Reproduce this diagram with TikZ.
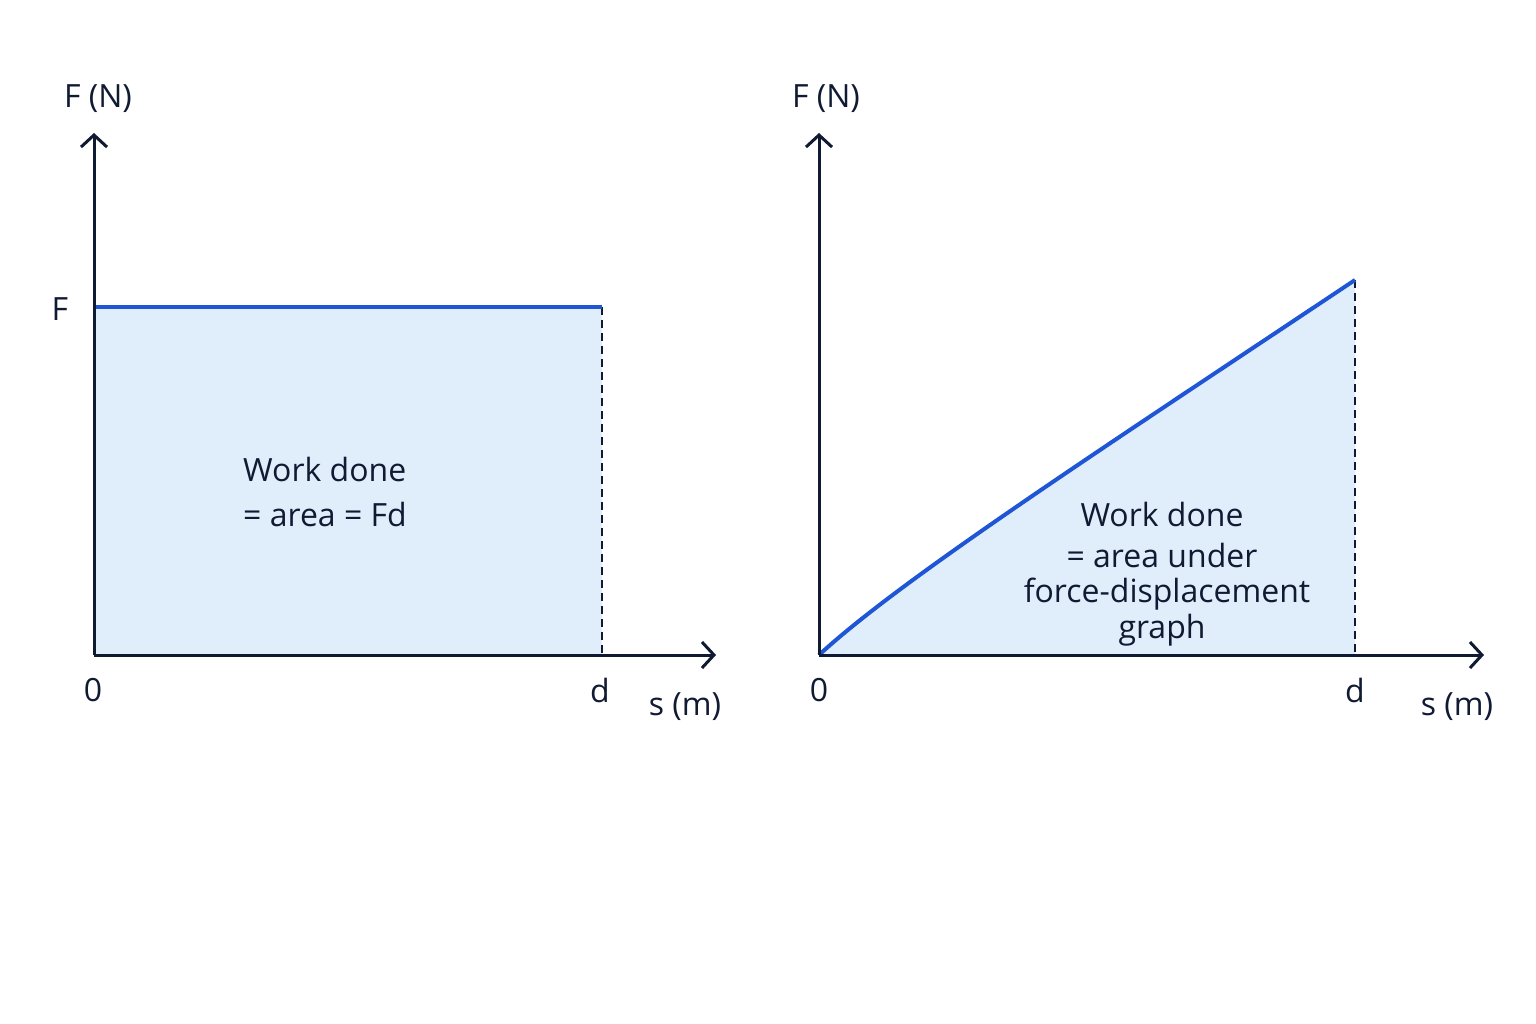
\documentclass[tikz,border=0pt]{standalone}
\usepackage{fontspec}
\setmainfont{Open Sans}
\usetikzlibrary{arrows.meta}
\definecolor{ax}{HTML}{111a33}
\definecolor{fillb}{HTML}{E0EEFB}
\definecolor{curve}{HTML}{1E56D6}
\begin{document}
\begin{tikzpicture}[x=1pt,y=-1pt,
  axis/.style={draw=ax,line width=3pt,-{Straight Barb[length=12pt,width=26pt,line width=3pt]}},
  dline/.style={draw=ax,line width=2.5pt,dash pattern=on 8pt off 5pt},
  lbl/.style={font=\fontsize{32}{37}\selectfont,text=ax,inner sep=0pt},
  crv/.style={draw=curve,line width=4pt}]
\path[fill=white] (0,0) rectangle (1536,1024);
\useasboundingbox (0,0) rectangle (1536,1024);
% left
\coordinate (o1) at (94,655);
\coordinate (y1) at (94,133);
\coordinate (x1) at (716,655);
\coordinate (f1) at (94,307);
\coordinate (d1) at (602,307);
\coordinate (b1) at (602,655);
\fill[fillb] (o1) -- (f1) -- (d1) -- (b1) -- cycle;
\draw[dline] (d1) -- (b1);
\draw[crv] (f1) -- (d1);
\draw[axis] (o1) -- (y1);
\draw[axis] (o1) -- (x1);
\node[lbl] (fn1) at (98,99) {F (N)};
\node[lbl] (ff1) at (60,309) {F};
\node[lbl] (z1) at (93,690) {0};
\node[lbl] (dd1) at (600,690) {d};
\node[lbl] (s1) at (685,707) {s (m)};
\node[lbl,anchor=west] (t1a) at (243,469) {Work done};
\node[lbl,anchor=west] (t1b) at (243,514) {= area = Fd};
% right
\coordinate (o2) at (819,655);
\coordinate (y2) at (819,133);
\coordinate (x2) at (1484,655);
\coordinate (d2) at (1355,280);
\coordinate (b2) at (1355,655);
\fill[fillb] (o2) .. controls (900,580) and (1100,450) .. (d2) -- (b2) -- cycle;
\draw[dline] (d2) -- (b2);
\draw[crv] (o2) .. controls (900,580) and (1100,450) .. (d2);
\draw[axis] (o2) -- (y2);
\draw[axis] (o2) -- (x2);
\node[lbl] (fn2) at (826,99) {F (N)};
\node[lbl] (z2) at (819,690) {0};
\node[lbl] (dd2) at (1355,690) {d};
\node[lbl] (s2) at (1457,707) {s (m)};
\node[lbl] (t2a) at (1162,514) {Work done};
\node[lbl] (t2b) at (1162,555) {= area under};
\node[lbl] (t2c) at (1167,594) {force-displacement};
\node[lbl] (t2d) at (1162,630) {graph};
\end{tikzpicture}
\end{document}
